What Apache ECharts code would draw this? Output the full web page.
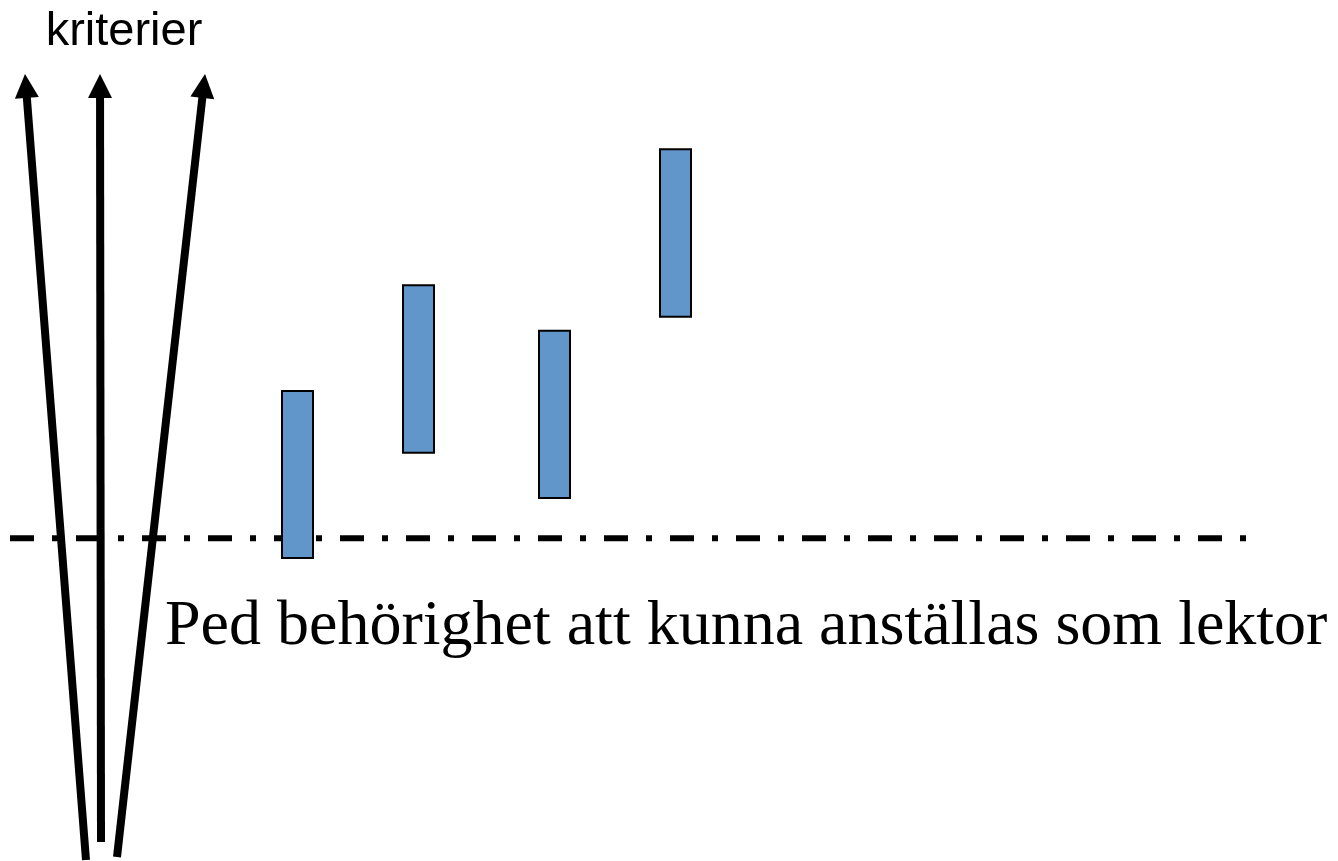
<!DOCTYPE html>
<html>
<head>
<meta charset="utf-8">
<title>kriterier</title>
<script src="https://cdn.jsdelivr.net/npm/echarts@6/dist/echarts.min.js"></script>
<style>
    html, body { margin: 0; padding: 0; background: #fff; }
    #main { width: 1338px; height: 861px; }
</style>
</head>
<body>
<div id="main"></div>
<script>
// niva 0 = behorighetsgransen (streckprickade linjen), 1 enhet = 10 px
var barX = [29.75, 41.85, 55.45, 67.55];
var barLow = [-1.97, 8.56, 4.03, 22.16];
var barHigh = [14.73, 25.3, 20.76, 38.9];

// pilar: start x, start y, spets x, spets y
var arrowFrom = [[8.6, -32.17], [10.1, -30.37], [11.7, -31.87]];
var arrowTo = [[2.5, 46.43], [10.0, 46.43], [20.5, 46.43]];

var thresholdX = [1.0, 124.7];
var thresholdLevel = 0;

var topLabel = 'kriterier';
var lineLabel = 'Ped behörighet att kunna anställas som lektor';

var barData = [];
for (var i = 0; i < barX.length; i++) {
    barData.push([barX[i], barLow[i], barHigh[i]]);
}

var arrowData = [];
for (var i = 0; i < arrowFrom.length; i++) {
    arrowData.push([arrowFrom[i][0], arrowFrom[i][1], arrowTo[i][0], arrowTo[i][1]]);
}

var lineData = [];
for (var i = 0; i < thresholdX.length; i++) {
    lineData.push([thresholdX[i], thresholdLevel]);
}

function renderBar(params, api) {
    var top = api.coord([api.value(0), api.value(2)]);
    var bottom = api.coord([api.value(0), api.value(1)]);
    var w = 31;
    return {
        type: 'rect',
        shape: { x: top[0] - w / 2, y: top[1], width: w, height: bottom[1] - top[1] },
        style: { fill: '#6096ca', stroke: '#000', lineWidth: 2 }
    };
}

function renderArrow(params, api) {
    var a = api.coord([api.value(0), api.value(1)]);
    var b = api.coord([api.value(2), api.value(3)]);
    var dx = b[0] - a[0], dy = b[1] - a[1];
    var len = Math.sqrt(dx * dx + dy * dy);
    var ux = dx / len, uy = dy / len;
    var headLen = 24, headHalf = 12;
    var bx = b[0] - ux * headLen, by = b[1] - uy * headLen;
    return {
        type: 'group',
        children: [{
            type: 'line',
            shape: { x1: a[0], y1: a[1], x2: bx + ux * 2, y2: by + uy * 2 },
            style: { stroke: '#000', lineWidth: 8, lineCap: 'butt' }
        }, {
            type: 'polygon',
            shape: { points: [[b[0], b[1]], [bx - uy * headHalf, by + ux * headHalf], [bx + uy * headHalf, by - ux * headHalf]] },
            style: { fill: '#000' }
        }]
    };
}

var chart = echarts.init(document.getElementById('main'));

var option = {
    animation: false,
    backgroundColor: '#fff',
    grid: { left: 0, right: 0, top: 0, bottom: 0 },
    xAxis: { type: 'value', min: 0, max: 133.8, show: false },
    yAxis: { type: 'value', min: -32.27, max: 53.83, show: false },
    title: [{
        text: topLabel,
        left: 119,
        top: 4,
        textAlign: 'center',
        textStyle: { fontFamily: 'Liberation Sans', fontWeight: 'normal', fontSize: 47, color: '#000' }
    }, {
        text: lineLabel,
        left: 160,
        top: 590,
        textStyle: { fontFamily: 'Liberation Serif', fontWeight: 'normal', fontSize: 64, color: '#000' }
    }],
    series: [{
        type: 'line',
        data: lineData,
        symbol: 'none',
        z: 1,
        lineStyle: { color: '#000', width: 6, type: [24, 18, 6, 18], cap: 'butt' }
    }, {
        type: 'custom',
        renderItem: renderArrow,
        data: arrowData,
        z: 2
    }, {
        type: 'custom',
        renderItem: renderBar,
        data: barData,
        z: 3
    }]
};

chart.setOption(option);
</script>
</body>
</html>
